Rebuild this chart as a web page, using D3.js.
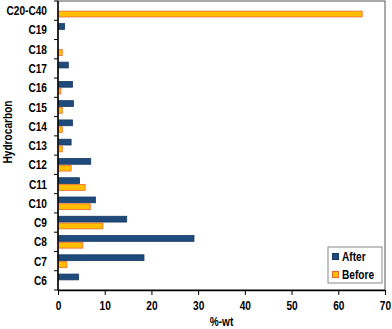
<!DOCTYPE html>
<html>
<head>
<meta charset="utf-8">
<script src="https://cdn.jsdelivr.net/npm/d3@7"></script>
<style>
  body { margin: 0; background: #fff; }
  svg text { font-family: "Liberation Sans", Arial, sans-serif; font-weight: bold; fill: #000; font-size: 13px; }
</style>
</head>
<body>
<div id="chart"></div>
<script>
var categories = ['C6', 'C7', 'C8', 'C9', 'C10', 'C11', 'C12', 'C13', 'C14', 'C15', 'C16', 'C17', 'C18', 'C19', 'C20-C40'];
var afterValues  = [4.3, 18.3, 29.0, 14.6, 7.9, 4.5, 6.9, 2.7, 3.0, 3.2, 3.0, 2.1, 0, 1.3, 0];
var beforeValues = [0, 1.8, 5.2, 9.5, 6.8, 5.7, 2.7, 0.8, 0.8, 0.8, 0.5, 0, 0.8, 0, 65.0];
var xTicks = [0, 10, 20, 30, 40, 50, 60, 70];
var seriesNames = ['After', 'Before'];

var W = 392, H = 329;
var margin = { top: 1, right: 7, bottom: 39, left: 58 };
var iw = W - margin.left - margin.right;
var ih = H - margin.top - margin.bottom;
var squeeze = 0.78; // the original uses a narrow bold face

var colors = { After: { fill: '#1f4a7c', stroke: '#163a63' }, Before: { fill: '#ffc000', stroke: '#f0642a' } };

// narrow text: a translated group squeezed horizontally
function label(parent, tx, ty, str, anchor, rot) {
  var t = 'translate(' + tx + ',' + ty + ')' + (rot ? ' rotate(' + rot + ')' : '') + ' scale(' + squeeze + ',1)';
  return parent.append('text').attr('transform', t).attr('dy', '0.35em')
    .attr('text-anchor', anchor || 'start').text(str);
}

var svg = d3.select('#chart').append('svg').attr('width', W).attr('height', H);
var g = svg.append('g').attr('transform', 'translate(' + margin.left + ',' + margin.top + ')');

var x = d3.scaleLinear().domain([0, 70]).range([0, iw]);
var y = d3.scaleBand().domain(categories.slice().reverse()).range([0, ih]);

// plot frame (top / right)
g.append('rect').attr('x', 0).attr('y', 0).attr('width', iw).attr('height', ih)
  .attr('fill', 'none').attr('stroke', '#555').attr('stroke-width', 1);

var data = categories.map(function (c, i) { return { cat: c, After: afterValues[i], Before: beforeValues[i] }; });
var bh = 5.8;

var rows = g.append('g').selectAll('g').data(data).enter().append('g')
  .attr('transform', function (d) { return 'translate(0,' + (y(d.cat) + y.bandwidth() / 2) + ')'; });

rows.filter(function (d) { return d.After > 0; }).append('rect')
  .attr('x', 0.5).attr('y', -bh - 0.5)
  .attr('width', function (d) { return x(d.After); }).attr('height', bh)
  .attr('fill', colors.After.fill).attr('stroke', colors.After.stroke).attr('stroke-width', 0.8);

rows.filter(function (d) { return d.Before > 0; }).append('rect')
  .attr('x', 0.5).attr('y', 0.5)
  .attr('width', function (d) { return x(d.Before); }).attr('height', bh)
  .attr('fill', colors.Before.fill).attr('stroke', colors.Before.stroke).attr('stroke-width', 0.8);

// x axis
var xAxis = g.append('g').attr('transform', 'translate(0,' + ih + ')')
  .call(d3.axisBottom(x).tickValues(xTicks).tickSize(5).tickSizeOuter(0));
xAxis.select('.domain').attr('stroke', '#000').attr('stroke-width', 1.5);
xAxis.selectAll('.tick line').attr('stroke', '#000');
xAxis.selectAll('.tick text').remove();
xAxis.selectAll('.tick').each(function (d) { label(d3.select(this), 0, 15.5, d, 'middle'); });

// y axis with ticks at band boundaries
g.append('line').attr('x1', 0).attr('x2', 0).attr('y1', 0).attr('y2', ih)
  .attr('stroke', '#000').attr('stroke-width', 1.5);
g.append('g').selectAll('line').data(d3.range(categories.length + 1)).enter().append('line')
  .attr('x1', -4).attr('x2', 0)
  .attr('y1', function (i) { return i * y.step(); }).attr('y2', function (i) { return i * y.step(); })
  .attr('stroke', '#000');
var yl = g.append('g');
categories.forEach(function (c) { label(yl, -11, y(c) + y.bandwidth() / 2, c, 'end'); });

// axis titles
label(svg, margin.left + iw / 2, 321, '%-wt', 'middle');
label(svg, 7, 132, 'Hydrocarbon', 'middle', -90);

// legend
var lg = svg.append('g').attr('transform', 'translate(328,247)');
lg.append('rect').attr('width', 54).attr('height', 36).attr('fill', '#fff').attr('stroke', '#888');
seriesNames.forEach(function (s, i) {
  var row = lg.append('g').attr('transform', 'translate(4,' + (5 + i * 18) + ')');
  row.append('rect').attr('x', 0.5).attr('y', 1.5).attr('width', 6).attr('height', 6)
    .attr('fill', colors[s].fill).attr('stroke', colors[s].stroke);
  label(row, 10, 4.5, s, 'start');
});
</script>
</body>
</html>
